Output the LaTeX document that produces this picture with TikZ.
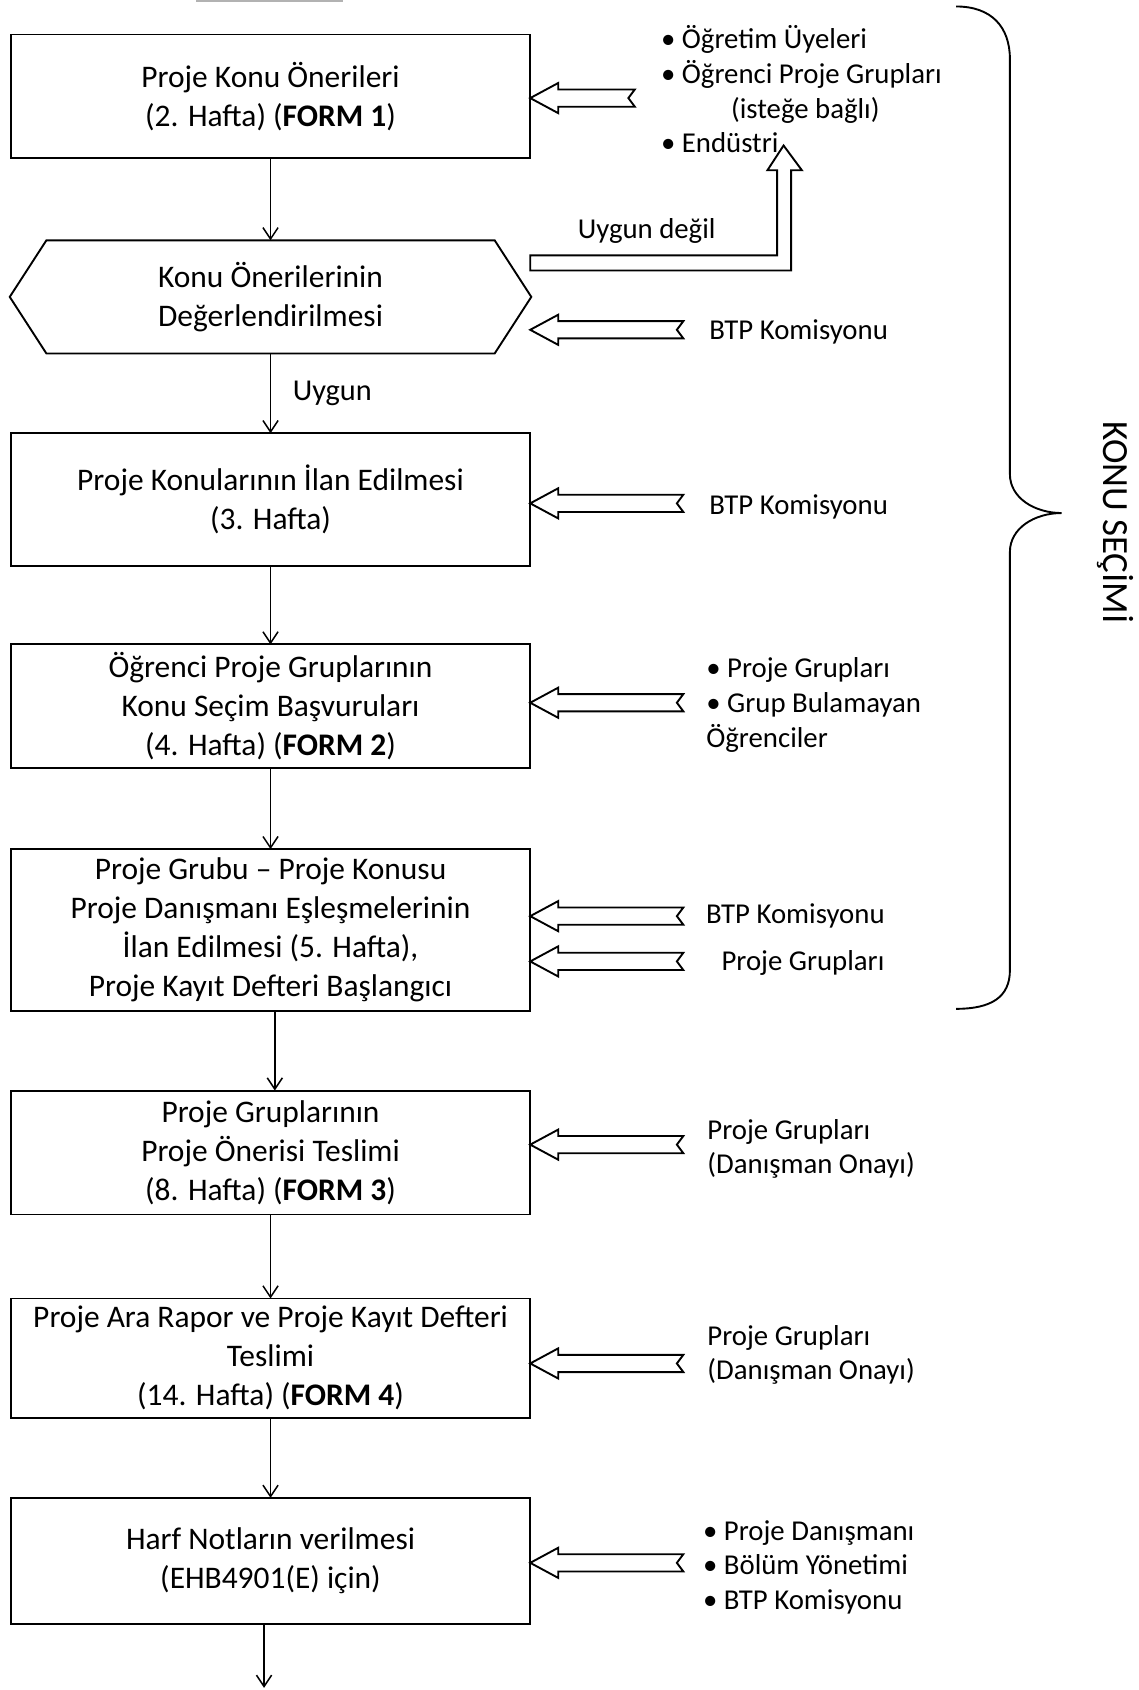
\documentclass[tikz,border=0pt]{standalone}
\usepackage{fontspec}
\setmainfont{Carlito}
\usetikzlibrary{arrows.meta, positioning, calc}

% block arrow: #1 = tail coordinate, #2 = target node (tip on its east side)
\newcommand{\fatarrow}[2]{%
  \coordinate (#1tip) at (#1 -| #2.east);
  \draw[fat] ($(#1)+(0,-8)$) -- ($(#1tip)+(26,-8)$) -- ($(#1tip)+(26,-14)$) -- (#1tip)
    -- ($(#1tip)+(26,14)$) -- ($(#1tip)+(26,8)$) -- ($(#1)+(0,8)$) -- ($(#1)+(-6,0)$) -- cycle;}

\begin{document}
\begin{tikzpicture}[
    x=0.02cm, y=-0.02cm,
    % styles
    stepbox/.style={draw, line width=1pt, rectangle, minimum width=9.64cm, inner sep=0pt, outer sep=0pt, align=center, font={\fontsize{16.6pt}{20.6pt}\selectfont}},
    hexbox/.style={rectangle, minimum width=8.32cm, inner sep=0pt, outer sep=0pt, align=center, font={\fontsize{16.6pt}{20.6pt}\selectfont}},
    side/.style={inner sep=0pt, align=left, font={\fontsize{15.2pt}{18.3pt}\selectfont}},
    flow/.style={-{Straight Barb[length=6pt,width=8pt]}, line width=0.8pt},
    fat/.style={draw, line width=1pt, fill=white, line join=miter}
]
    \useasboundingbox (0,0) rectangle (1056,1568);
    \draw[gray!60, line width=1.2pt] (182,0.6) -- (318,0.6);

    % =================================================================
    % main steps
    % =================================================================
    \node[stepbox, minimum height=2.3cm] (n1) at (251,89.5) {Proje Konu Önerileri\\(2. Hafta) (\textbf{FORM 1})};
    \node[hexbox, minimum height=2.1cm, below=1.52cm of n1] (n2) {Konu Önerilerinin\\Değerlendirilmesi};
    \draw[line width=1pt] (n2.north west) -- (n2.north east) -- ($(n2.east)+(34,0)$) -- (n2.south east)
        -- (n2.south west) -- ($(n2.west)+(-34,0)$) -- cycle;
    \node[stepbox, minimum height=2.46cm, below=1.48cm of n2] (n3) {Proje Konularının İlan Edilmesi\\(3. Hafta)};
    \node[stepbox, minimum height=2.3cm, below=1.46cm of n3] (n4) {Öğrenci Proje Gruplarının\\Konu Seçim Başvuruları\\(4. Hafta) (\textbf{FORM 2})};
    \node[stepbox, minimum height=3.0cm, below=1.5cm of n4] (n5) {Proje Grubu – Proje Konusu\\Proje Danışmanı Eşleşmelerinin\\İlan Edilmesi (5. Hafta),\\Proje Kayıt Defteri Başlangıcı};
    \node[stepbox, minimum height=2.3cm, below=1.48cm of n5] (n6) {Proje Gruplarının\\Proje Önerisi Teslimi\\(8. Hafta) (\textbf{FORM 3})};
    \node[stepbox, minimum height=2.22cm, below=1.56cm of n6] (n7) {Proje Ara Rapor ve Proje Kayıt Defteri\\Teslimi\\(14. Hafta) (\textbf{FORM 4})};
    \node[stepbox, minimum height=2.34cm, below=1.48cm of n7] (n8) {Harf Notların verilmesi\\(EHB4901(E) için)};
    \coordinate (fin) at (245,1566);

    \draw[flow] (n1.south) -- (n2.north);
    \draw[flow] (n2.south) -- (n3.north) node[side, midway, right=0.4cm, font={\fontsize{16pt}{19pt}\selectfont}] (ok) {Uygun};
    \draw[flow] (n3.south) -- (n4.north);
    \draw[flow] (n4.south) -- (n5.north);
    \draw[flow] ($(n5.south)+(4,0)$) -- ($(n6.north)+(4,0)$);
    \draw[flow] (n6.south) -- (n7.north);
    \draw[flow] (n7.south) -- (n8.north);
    \draw[flow] (fin |- n8.south) -- (fin);

    % =================================================================
    % inputs (block arrows)
    % =================================================================
    \coordinate (s1) at (589,91);
    \coordinate (s2) at (634,306);
    \coordinate (s3) at (634,467);
    \coordinate (s4) at (634,652);
    \coordinate (s5) at (634,850);
    \coordinate (s6) at (634,892);
    \coordinate (s7) at (634,1062);
    \coordinate (s8) at (634,1265);
    \coordinate (s9) at (634,1450);
    \fatarrow{s1}{n1}
    \fatarrow{s2}{n1}
    \fatarrow{s3}{n3}
    \fatarrow{s4}{n4}
    \fatarrow{s5}{n5}
    \fatarrow{s6}{n5}
    \fatarrow{s7}{n6}
    \fatarrow{s8}{n7}
    \fatarrow{s9}{n8}

    % not suitable -> back to the sources
    \coordinate (u0) at (492,244);
    \draw[fat] ($(u0)+(0,-7)$) -- (721,237) -- (721,158) -- (712,158) -- (727,135) -- (744,158) -- (734,158)
        -- (734,251) -- ($(u0)+(0,7)$) -- cycle;
    \node[side] (ud) at (600,214) {Uygun değil};

    \node[side, anchor=west] (t1) at (613,83) {• Öğretim Üyeleri\\• Öğrenci Proje Grupları\\\hspace*{1.3cm}(isteğe bağlı)\\• Endüstri};
    \node[side] (b2) at (741,308) {BTP Komisyonu};
    \node[side] (b3) at (741,470) {BTP Komisyonu};
    \node[side, anchor=west] (t4) at (655,654) {• Proje Grupları\\• Grup Bulamayan\\Öğrenciler};
    \node[side] (b5) at (738,850) {BTP Komisyonu};
    \node[side] (p5) at (745,893) {Proje Grupları};
    \node[side, anchor=west] (t6) at (656,1066) {Proje Grupları\\(Danışman Onayı)};
    \node[side, anchor=west] (t7) at (656,1257) {Proje Grupları\\(Danışman Onayı)};
    \node[side, anchor=west] (t8) at (652,1454) {• Proje Danışmanı\\• Bölüm Yönetimi\\• BTP Komisyonu};

    % =================================================================
    % brace
    % =================================================================
    \draw[line width=1pt] (887,6) .. controls (920,6) and (937,25) .. (937,55) -- (937,440)
        .. controls (937,462) and (960,476) .. (985,476) .. controls (960,476) and (937,490) .. (937,512)
        -- (937,900) .. controls (937,925) and (920,936) .. (887,936);
    \node[rotate=-90, inner sep=0pt, font={\fontsize{19.5pt}{22pt}\selectfont}] (sec) at (1035,485) {KONU SEÇİMİ};
\end{tikzpicture}
\end{document}
